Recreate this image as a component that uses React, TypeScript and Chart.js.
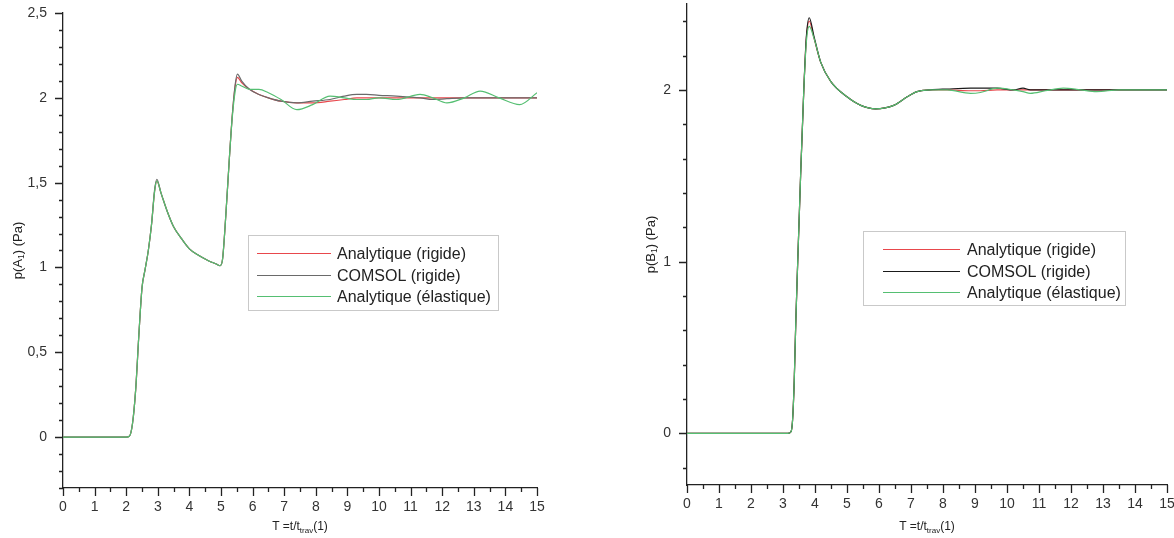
import React, { useEffect, useRef } from "react";
import { Chart, registerables } from "chart.js";
Chart.register(...registerables);

const FONT = "'Liberation Sans', Arial, sans-serif";

// ---------- Left panel : p(A1) ----------
const leftT = [0, 2.0, 2.1, 2.2, 2.3, 2.4, 2.5, 2.6, 2.7, 2.8, 2.9, 2.97, 3.1, 3.3, 3.5, 3.75, 4.0, 4.3, 4.6, 4.85, 4.97, 5.05, 5.15, 5.25, 5.35, 5.45, 5.52, 5.65, 5.9, 6.2, 6.5, 6.9, 7.4, 7.9, 8.45, 8.9, 9.3, 9.6, 10.0, 10.55, 11.3, 11.7, 12.15, 12.7, 13.2, 13.8, 14.45, 15];
const leftRigid = [0, 0, 0.005, 0.08, 0.28, 0.6, 0.88, 0.99, 1.1, 1.25, 1.45, 1.51, 1.44, 1.33, 1.24, 1.17, 1.11, 1.07, 1.04, 1.02, 1.01, 1.05, 1.3, 1.6, 1.88, 2.07, 2.12, 2.09, 2.05, 2.02, 2.0, 1.98, 1.97, 1.97, 1.98, 1.99, 2.0, 2.0, 2.0, 2.0, 2.0, 2.0, 2.0, 2.0, 2.0, 2.0, 2.0, 2.0];
const leftComsol = [0, 0, 0.005, 0.08, 0.28, 0.6, 0.88, 0.99, 1.1, 1.25, 1.46, 1.52, 1.44, 1.33, 1.24, 1.17, 1.11, 1.07, 1.04, 1.02, 1.01, 1.05, 1.3, 1.6, 1.88, 2.08, 2.14, 2.1, 2.05, 2.02, 2.0, 1.98, 1.97, 1.98, 1.99, 2.01, 2.02, 2.02, 2.015, 2.01, 2.0, 1.99, 1.995, 2.0, 2.0, 2.0, 2.0, 2.0];
const leftElastic = [0, 0, 0.005, 0.08, 0.28, 0.6, 0.88, 0.99, 1.1, 1.25, 1.45, 1.51, 1.44, 1.33, 1.24, 1.17, 1.11, 1.07, 1.04, 1.02, 1.01, 1.05, 1.3, 1.6, 1.87, 2.04, 2.08, 2.07, 2.05, 2.05, 2.03, 1.99, 1.93, 1.96, 2.01, 2.0, 1.99, 1.99, 2.0, 1.99, 2.02, 2.0, 1.97, 2.0, 2.04, 2.0, 1.96, 2.03];

// ---------- Right panel : p(B1) ----------
const rightT = [0, 3.15, 3.25, 3.3, 3.35, 3.4, 3.46, 3.55, 3.65, 3.73, 3.82, 3.97, 4.18, 4.49, 5.0, 5.43, 5.89, 6.46, 6.88, 7.19, 7.6, 8.13, 8.86, 9.17, 9.69, 10.2, 10.5, 10.73, 11.2, 11.76, 12.3, 12.8, 13.5, 15];
const rightRigid = [0, 0, 0.01, 0.08, 0.3, 0.65, 1.0, 1.5, 2.0, 2.3, 2.4, 2.3, 2.16, 2.05, 1.96, 1.91, 1.89, 1.91, 1.96, 1.99, 2.0, 2.0, 1.995, 1.995, 2.0, 2.0, 2.0, 2.0, 2.0, 2.0, 2.0, 2.0, 2.0, 2.0];
const rightComsol = [0, 0, 0.01, 0.08, 0.3, 0.65, 1.0, 1.5, 2.0, 2.31, 2.42, 2.31, 2.16, 2.05, 1.96, 1.91, 1.89, 1.91, 1.96, 1.99, 2.0, 2.005, 2.01, 2.01, 2.01, 2.0, 2.01, 2.0, 2.0, 2.0, 2.0, 2.0, 2.0, 2.0];
const rightElastic = [0, 0, 0.01, 0.08, 0.3, 0.65, 1.0, 1.5, 2.0, 2.28, 2.37, 2.3, 2.16, 2.05, 1.96, 1.91, 1.89, 1.91, 1.96, 1.99, 2.0, 2.0, 1.98, 1.985, 2.01, 2.0, 1.99, 1.98, 1.995, 2.01, 2.0, 1.99, 2.0, 2.0];

const seriesLabels = ["Analytique (rigide)", "COMSOL (rigide)", "Analytique (élastique)"];
const xTickValues = [0, 1, 2, 3, 4, 5, 6, 7, 8, 9, 10, 11, 12, 13, 14, 15];
const leftYTickValues = [0, 0.5, 1, 1.5, 2, 2.5];
const rightYTickValues = [0, 1, 2];

const RED = "#e8474c";
const GREEN = "#55bf72";

const isMult = (v: number, s: number) => Math.abs(v / s - Math.round(v / s)) < 1e-6;

const axisDecor = {
  id: "axisDecor",
  afterDraw(chart: any, _args: any, o: any) {
    const ctx = chart.ctx as CanvasRenderingContext2D;
    const { left, right, top, bottom } = chart.chartArea;
    const xs = chart.scales.x;
    const ys = chart.scales.y;
    ctx.save();
    // tick marks
    ctx.strokeStyle = "#222";
    ctx.lineWidth = 1.3;
    ctx.beginPath();
    for (let i = 0; ; i++) {
      const v = xs.min + i * o.xMinor;
      if (v > xs.max + 1e-9) break;
      const px = Math.round(xs.getPixelForValue(v)) + 0.5;
      ctx.moveTo(px, bottom);
      ctx.lineTo(px, bottom + (isMult(v, o.xMajor) ? 8 : 4));
    }
    const start = Math.ceil(ys.min / o.yMinor - 1e-9);
    for (let i = start; ; i++) {
      const v = i * o.yMinor;
      if (v > ys.max + 1e-9) break;
      const py = Math.round(ys.getPixelForValue(v)) + 0.5;
      ctx.moveTo(left, py);
      ctx.lineTo(left - (isMult(v, o.yMajor) ? 8 : 4), py);
    }
    ctx.stroke();

    // x title with subscript
    ctx.fillStyle = "#222";
    ctx.textBaseline = "alphabetic";
    const main = "12px " + FONT;
    const sub = "8px " + FONT;
    const parts: [string, string, number][] = [["T =t/t", main, 0], ["trav", sub, 2.5], ["(1)", main, 0]];
    let total = 0;
    for (const p of parts) { ctx.font = p[1]; total += ctx.measureText(p[0]).width; }
    let cx = (left + right) / 2 - total / 2;
    const by = o.xTitleY;
    for (const p of parts) {
      ctx.font = p[1];
      ctx.textAlign = "left";
      ctx.fillText(p[0], cx, by + p[2]);
      cx += ctx.measureText(p[0]).width;
    }

    // y title with subscript (rotated)
    ctx.save();
    ctx.translate(o.yTitleX, (top + bottom) / 2);
    ctx.rotate(-Math.PI / 2);
    const ym = "13px " + FONT;
    const ysb = "8.5px " + FONT;
    const yparts: [string, string, number][] = [["p(" + o.yVar, ym, 0], ["1", ysb, 2.5], [") (Pa)", ym, 0]];
    let yt = 0;
    for (const p of yparts) { ctx.font = p[1]; yt += ctx.measureText(p[0]).width; }
    let yx = -yt / 2;
    for (const p of yparts) {
      ctx.font = p[1];
      ctx.textAlign = "left";
      ctx.fillText(p[0], yx, 4.5 + p[2]);
      yx += ctx.measureText(p[0]).width;
    }
    ctx.restore();

    // legend box
    const L = o.legend;
    ctx.strokeStyle = "#c9c9c9";
    ctx.lineWidth = 1;
    ctx.strokeRect(L.x + 0.5, L.y + 0.5, L.w, L.h);
    ctx.font = "16px " + FONT;
    ctx.textAlign = "left";
    ctx.textBaseline = "middle";
    chart.data.datasets.forEach((ds: any, i: number) => {
      const ry = Math.round(L.row0 + i * L.rowGap) + 0.5;
      ctx.strokeStyle = ds.borderColor;
      ctx.lineWidth = 1;
      ctx.beginPath();
      ctx.moveTo(L.lineX0, ry);
      ctx.lineTo(L.lineX1, ry);
      ctx.stroke();
      ctx.fillStyle = "#222";
      ctx.fillText(ds.label, L.textX, ry + 1);
    });
    ctx.restore();
  },
};

type PanelProps = {
  canvasLeft: number;
  canvasWidth: number;
  t: number[];
  series: number[][];
  colors: string[];
  yTicks: number[];
  yMinor: number;
  yMajor: number;
  yAxisWidth: number;
  padRight: number;
  padTop: number;
  xAxisHeight: number;
  yTitleX: number;
  yVar: string;
  legend: any;
};

function Panel(p: PanelProps) {
  const ref = useRef<HTMLCanvasElement>(null);
  useEffect(() => {
    const fmt = (v: number) => String(v).replace(".", ",");
    const chart = new Chart(ref.current as HTMLCanvasElement, {
      type: "line",
      data: {
        datasets: p.series.map((vals, i) => ({
          label: seriesLabels[i],
          data: p.t.map((x, j) => ({ x, y: vals[j] })),
          borderColor: p.colors[i],
          backgroundColor: p.colors[i],
          borderWidth: 1.2,
          pointRadius: 0,
          cubicInterpolationMode: "monotone" as const,
          order: 3 - i,
        })),
      },
      options: {
        animation: false,
        responsive: false,
        events: [],
        layout: { padding: { left: 0, right: p.padRight, top: p.padTop, bottom: 0 } },
        plugins: {
          legend: { display: false },
          tooltip: { enabled: false },
          axisDecor: {
            xMinor: 0.5,
            xMajor: 1,
            yMinor: p.yMinor,
            yMajor: p.yMajor,
            xTitleY: 530,
            yTitleX: p.yTitleX,
            yVar: p.yVar,
            legend: p.legend,
          },
        } as any,
        scales: {
          x: {
            type: "linear",
            min: 0,
            max: 15,
            afterBuildTicks: (s: any) => { s.ticks = xTickValues.map((v) => ({ value: v })); },
            afterFit: (s: any) => { s.height = p.xAxisHeight; s.paddingLeft = 0; s.paddingRight = 0; },
            grid: { display: true, drawOnChartArea: false, drawTicks: false },
            border: { display: true, color: "#222", width: 1.3 },
            ticks: {
              padding: 11,
              maxRotation: 0,
              autoSkip: false,
              color: "#333",
              font: { family: FONT, size: 14 },
              callback: (v: any) => fmt(Number(v)),
            },
          },
          y: {
            type: "linear",
            min: -0.3,
            max: 2.5,
            afterBuildTicks: (s: any) => { s.ticks = p.yTicks.map((v) => ({ value: v })); },
            afterFit: (s: any) => { s.width = p.yAxisWidth; s.paddingTop = 0; s.paddingBottom = 0; },
            grid: { display: true, drawOnChartArea: false, drawTicks: false },
            border: { display: true, color: "#222", width: 1.3 },
            ticks: {
              padding: 16,
              color: "#333",
              font: { family: FONT, size: 14 },
              callback: (v: any) => fmt(Number(v)),
            },
          },
        },
      },
      plugins: [axisDecor],
    });
    return () => chart.destroy();
  }, []);
  return (
    <canvas
      ref={ref}
      width={p.canvasWidth}
      height={538}
      style={{ position: "absolute", left: p.canvasLeft, top: 0, width: p.canvasWidth, height: 538 }}
    />
  );
}

export default function App() {
  return (
    <div style={{ position: "fixed", left: 0, top: 0, width: 1174, height: 538, background: "#fff", overflow: "hidden" }}>
      <Panel
        canvasLeft={0}
        canvasWidth={587}
        t={leftT}
        series={[leftRigid, leftComsol, leftElastic]}
        colors={[RED, "#6a6a6a", GREEN]}
        yTicks={leftYTickValues}
        yMinor={0.1}
        yMajor={0.5}
        yAxisWidth={63}
        padRight={50}
        padTop={13}
        xAxisHeight={50}
        yTitleX={17}
        yVar="A"
        legend={{ x: 248, y: 235, w: 250, h: 75, row0: 253, rowGap: 21.5, lineX0: 257, lineX1: 331, textX: 337 }}
      />
      <Panel
        canvasLeft={587}
        canvasWidth={587}
        t={rightT}
        series={[rightRigid, rightComsol, rightElastic]}
        colors={[RED, "#1a1a1a", GREEN]}
        yTicks={rightYTickValues}
        yMinor={0.2}
        yMajor={1}
        yAxisWidth={100}
        padRight={7}
        padTop={4}
        xAxisHeight={53}
        yTitleX={63}
        yVar="B"
        legend={{ x: 276, y: 231, w: 262, h: 74, row0: 249, rowGap: 21.5, lineX0: 296, lineX1: 373, textX: 380 }}
      />
    </div>
  );
}
